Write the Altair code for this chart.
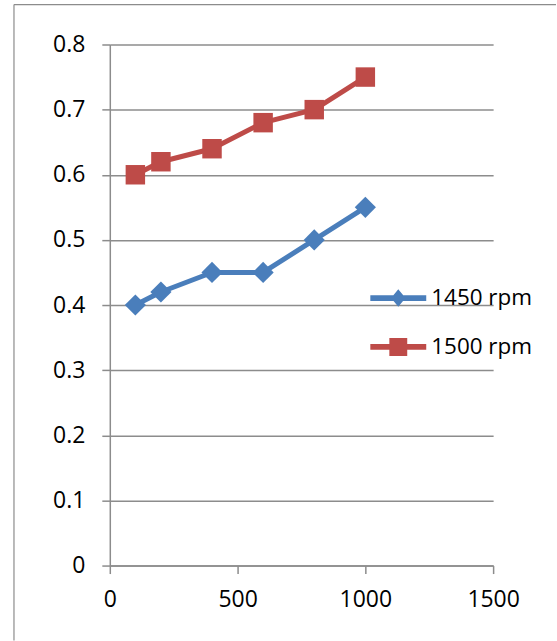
import altair as alt
import pandas as pd

# ---- data ----
x_vals = [100, 200, 400, 600, 800, 1000]
s1450 = [0.40, 0.42, 0.45, 0.45, 0.50, 0.55]
s1500 = [0.60, 0.62, 0.64, 0.68, 0.70, 0.75]
series = ["1450 rpm", "1500 rpm"]
colors = ["#4A7EBB", "#BE4B48"]
x_ticks = [0, 500, 1000, 1500]
y_ticks = [0, 0.1, 0.2, 0.3, 0.4, 0.5, 0.6, 0.7, 0.8]

rows = []
for name, vals in zip(series, [s1450, s1500]):
    for xv, yv in zip(x_vals, vals):
        rows.append({"x": xv, "y": yv, "series": name})
df = pd.DataFrame(rows)

FONT = "Open Sans"
FS = 23
GRID = "#8C8C8C"

# legend symbols: line segment with marker (custom unit paths)
line_part = "M-1.75,-0.18 L1.75,-0.18 L1.75,0.18 L-1.75,0.18 Z "
leg_diamond = line_part + "M0,-0.55 L0.45,0 L0,0.55 L-0.45,0 Z"
leg_square = line_part + "M-0.56,-0.56 L0.56,-0.56 L0.56,0.56 L-0.56,0.56 Z"

xenc = alt.X("x:Q", scale=alt.Scale(domain=[0, 1500], nice=False),
             axis=alt.Axis(values=x_ticks, grid=False, title=None, labelFlush=False,
                           tickSize=8, labelPadding=15, format="d"))
yenc = alt.Y("y:Q", scale=alt.Scale(domain=[0, 0.8], nice=False),
             axis=alt.Axis(values=y_ticks, grid=True, title=None, labelFlush=False,
                           tickSize=8, labelPadding=17, format=".1~f"))

col_scale = alt.Scale(domain=series, range=colors)

base = alt.Chart(df)

lines = base.mark_line(strokeWidth=5, strokeCap="round", strokeJoin="round").encode(
    x=xenc, y=yenc,
    color=alt.Color("series:N", scale=col_scale, legend=None),
    detail="series:N",
)

points = base.mark_point(filled=True, opacity=1, strokeWidth=0).encode(
    x=xenc, y=yenc,
    color=alt.Color("series:N", scale=col_scale, legend=None),
    shape=alt.Shape("series:N", scale=alt.Scale(domain=series, range=["diamond", "square"]), legend=None),
    size=alt.Size("series:N", scale=alt.Scale(domain=series, range=[450, 380]), legend=None),
)

leg = dict(title=None, orient="none", legendX=273, legendY=238,
           symbolSize=1024, symbolOpacity=1, symbolStrokeWidth=0,
           labelFontSize=22.5, labelFont=FONT, labelColor="#000000",
           labelOffset=17, rowPadding=21, padding=0)

legend_layer = base.transform_filter("datum.x < 0").mark_point(filled=True, opacity=1).encode(
    x=xenc, y=yenc,
    color=alt.Color("series:N", scale=col_scale, legend=alt.Legend(**leg)),
    shape=alt.Shape("series:N", scale=alt.Scale(domain=series, range=[leg_diamond, leg_square]),
                    legend=alt.Legend(**leg)),
)

border_data = alt.Data(values=[{"k": 1}])
top_rule = alt.Chart(border_data).mark_rule(color="#8C8C8C", strokeWidth=1.2).encode(
    x=alt.value(-96), x2=alt.value(447), y=alt.value(-40))
left_rule = alt.Chart(border_data).mark_rule(color="#8C8C8C", strokeWidth=1.2).encode(
    x=alt.value(-96), y=alt.value(-40), y2=alt.value(597))

chart = alt.layer(top_rule, left_rule, lines, points, legend_layer).resolve_scale(
    color="independent", shape="independent", size="independent"
).properties(
    width=384, height=522,
    padding={"left": 13, "top": 3, "right": 0, "bottom": 0},
    background="white",
).configure(font=FONT).configure_view(stroke=None).configure_axis(
    labelFont=FONT, labelFontSize=FS, labelColor="#000000",
    domainColor=GRID, domainWidth=1.5, tickColor=GRID, tickWidth=1.5,
    gridColor=GRID, gridWidth=1.5, gridOpacity=1,
)

chart.save("out.html", embed_options={"renderer": "svg", "actions": False})
